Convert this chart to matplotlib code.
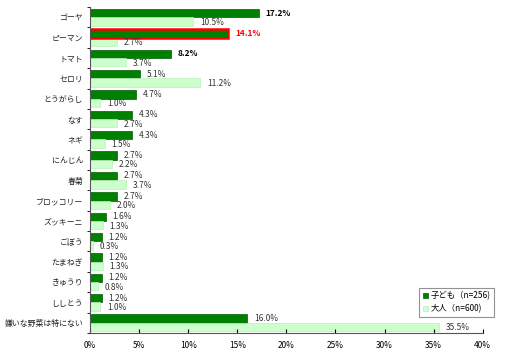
import numpy as np
import matplotlib.pyplot as plt

plt.rcParams['font.family'] = ['Noto Sans CJK JP', 'DejaVu Sans']

categories = ['ゴーヤ', 'ピーマン', 'トマト', 'セロリ', 'とうがらし', 'なす', 'ネギ',
              'にんじん', '春菊', 'ブロッコリー', 'ズッキーニ', 'ごぼう', 'たまねぎ',
              'きゅうり', 'ししとう', '嫌いな野菜は特にない']
children = [17.2, 14.1, 8.2, 5.1, 4.7, 4.3, 4.3, 2.7, 2.7, 2.7, 1.6, 1.2, 1.2, 1.2, 1.2, 16.0]
adults = [10.5, 2.7, 3.7, 11.2, 1.0, 2.7, 1.5, 2.2, 3.7, 2.0, 1.3, 0.3, 1.3, 0.8, 1.0, 35.5]
xticks = [0, 5, 10, 15, 20, 25, 30, 35, 40]

dark = '#008000'
light = '#CCFFCC'

fig = plt.figure(figsize=(5.06, 3.53), dpi=100)
ax = fig.add_axes([0.178, 0.057, 0.776, 0.923])

y = np.arange(len(categories))
h = 0.41
ax.barh(y - h / 2, children, height=h, color=dark, edgecolor='#006000', linewidth=0.5,
        label='子ども（n=256)')
ax.barh(y + h / 2, adults, height=h, color=light, edgecolor='#bbeebb', linewidth=0.5,
        label='大人（n=600)')

# highlight pepper
ax.barh(y[1] - h / 2, children[1], height=h, color=dark, edgecolor='red', linewidth=1.8)

for i in range(len(categories)):
    color, weight = '#333333', 'normal'
    if i == 1:
        color, weight = 'red', 'bold'
    elif i in (0, 2):
        color, weight = 'black', 'bold'
    ax.text(children[i] + 0.7, y[i] - h / 2, f'{children[i]:.1f}%', va='center',
            ha='left', fontsize=6, color=color, fontweight=weight)
    ax.text(adults[i] + 0.7, y[i] + h / 2 + 0.05, f'{adults[i]:.1f}%', va='center',
            ha='left', fontsize=6, color='#333333')

ax.set_xlim(0, 40)
ax.set_ylim(len(categories) - 0.5, -0.5)
ax.set_yticks(y)
ax.set_yticklabels(categories, fontsize=5.7, color='#222222')
ax.set_yticks(np.arange(-0.5, len(categories), 1), minor=True)
ax.tick_params(axis='y', which='major', length=0, pad=5)
ax.tick_params(axis='y', which='minor', length=2.5, direction='out')
ax.set_xticks(xticks)
ax.set_xticklabels([f'{t}%' for t in xticks], fontsize=6)
ax.tick_params(axis='x', length=3, direction='in', pad=6)

for s in ['top', 'right']:
    ax.spines[s].set_visible(False)
ax.spines['left'].set_color('#555555')
ax.spines['bottom'].set_color('#555555')

leg = ax.legend(loc='lower right', bbox_to_anchor=(1.04, 0.035), fontsize=6,
                frameon=True, fancybox=False, edgecolor='#777777',
                handlelength=0.6, handleheight=0.6, handletextpad=0.3,
                borderpad=0.45, labelspacing=0.45)
leg.get_frame().set_linewidth(0.8)

fig.savefig('out.png', dpi=100)
